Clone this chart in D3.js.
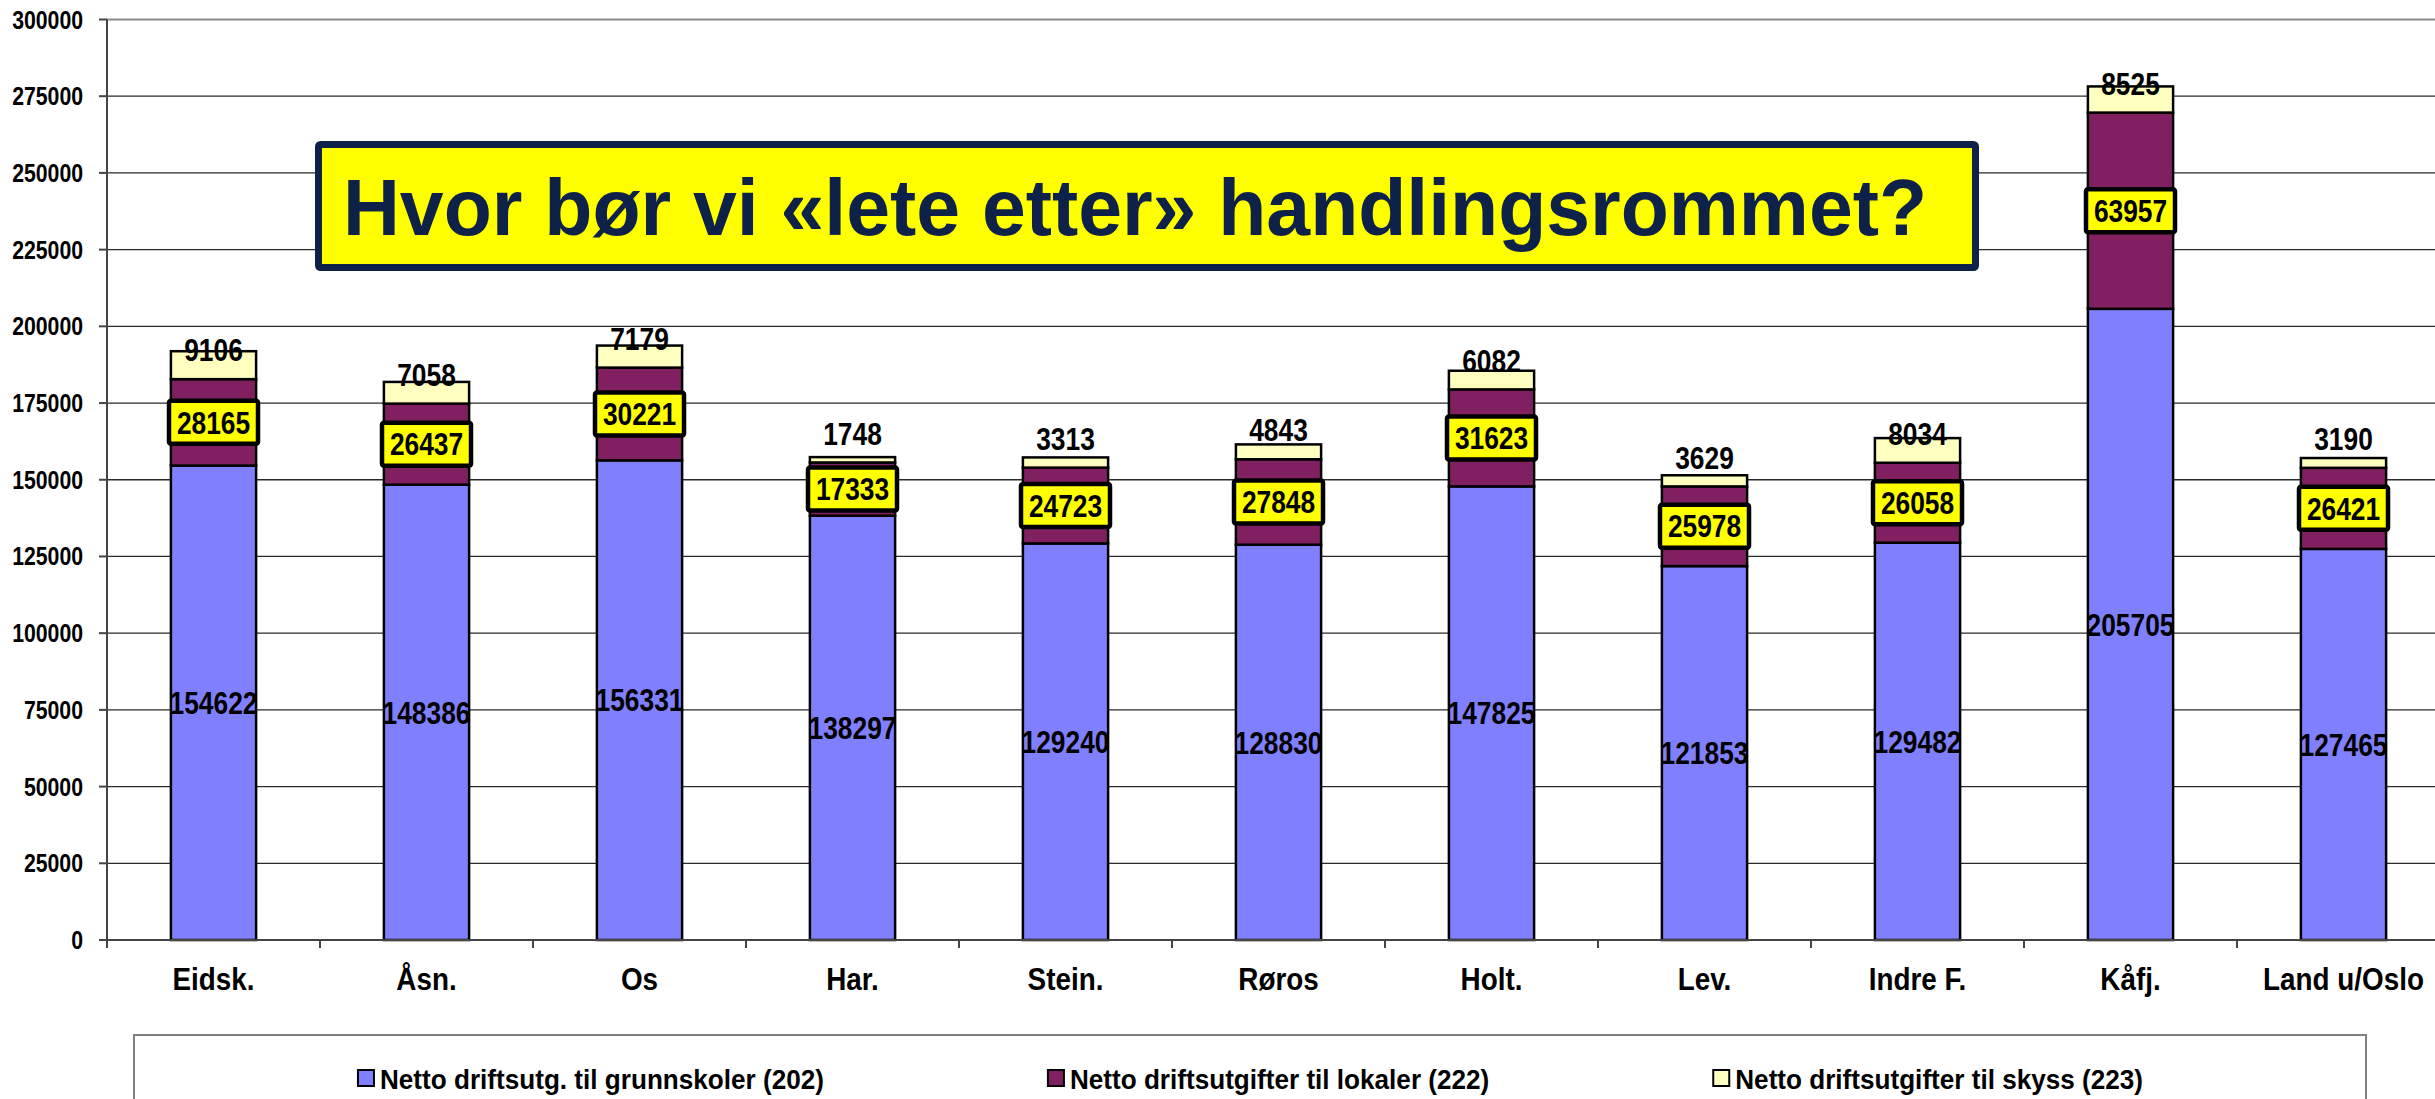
<!DOCTYPE html>
<html>
<head>
<meta charset="utf-8">
<script src="https://cdn.jsdelivr.net/npm/d3@7"></script>
<style>
  body { margin: 0; background: #fff; overflow: hidden; }
  text { font-family: "Liberation Sans", Arial, sans-serif; font-weight: bold; }
</style>
</head>
<body>
<svg id="chart"></svg>
<script>
// data
const categories = ["Eidsk.", "Åsn.", "Os", "Har.", "Stein.", "Røros", "Holt.", "Lev.", "Indre F.", "Kåfj.", "Land u/Oslo"];
const grunnskoler = [154622, 148386, 156331, 138297, 129240, 128830, 147825, 121853, 129482, 205705, 127465];
const lokaler = [28165, 26437, 30221, 17333, 24723, 27848, 31623, 25978, 26058, 63957, 26421];
const skyss = [9106, 7058, 7179, 1748, 3313, 4843, 6082, 3629, 8034, 8525, 3190];
const seriesNames = ["Netto driftsutg. til grunnskoler (202)", "Netto driftsutgifter til lokaler (222)", "Netto driftsutgifter til skyss (223)"];
const yTicks = [0, 25000, 50000, 75000, 100000, 125000, 150000, 175000, 200000, 225000, 250000, 275000, 300000];
const title = "Hvor bør vi «lete etter» handlingsrommet?";

const W = 2435, H = 1099;
const colors = ["#8080FF", "#802060", "#FFFFC0"];
const keys = ["grunn", "lokaler", "skyss"];
const sx = 0.85; // the picture's text is a bit condensed

const svg = d3.select("#chart").attr("width", W).attr("height", H);

const rows = categories.map((c, i) => ({ cat: c, grunn: grunnskoler[i], lokaler: lokaler[i], skyss: skyss[i] }));
const series = d3.stack().keys(keys)(rows);

const x = d3.scaleBand().domain(categories).range([107, 2450]).paddingInner(0.6).paddingOuter(0.3);
const y = d3.scaleLinear().domain([0, 300000]).range([940, 19.5]);

// squeezed text helper
function label(g, tx, ty, str, size, anchor, scale) {
  return g.append("text")
    .attr("transform", "translate(" + tx + "," + ty + ") scale(" + scale + ",1)")
    .attr("text-anchor", anchor)
    .attr("font-size", size)
    .attr("dy", "0.36em")
    .text(str);
}

//gridlines
svg.append("g").selectAll("line")
  .data(yTicks.filter(d => d > 0))
  .join("line")
  .attr("x1", 107).attr("x2", W)
  .attr("y1", d => y(d)).attr("y2", d => y(d))
  .attr("stroke", d => d === 300000 ? "#8a8a8a" : "#2a2a2a")
  .attr("stroke-width", d => d === 300000 ? 2.2 : 1.3);

//bars
const layers = svg.append("g").selectAll("g")
  .data(series)
  .join("g")
  .attr("fill", (d, i) => colors[i]);

layers.selectAll("rect")
  .data(d => d)
  .join("rect")
  .attr("x", d => x(d.data.cat))
  .attr("width", x.bandwidth())
  .attr("y", d => y(d[1]))
  .attr("height", d => y(d[0]) - y(d[1]))
  .attr("stroke", "#000")
  .attr("stroke-width", 2.5);

//axes
const axes = svg.append("g").attr("stroke", "#444").attr("stroke-width", 2);
axes.append("line").attr("x1", 107).attr("x2", 107).attr("y1", y(300000)).attr("y2", y(0));
axes.append("line").attr("x1", 107).attr("x2", W).attr("y1", y(0)).attr("y2", y(0));
axes.selectAll(".yt").data(yTicks).join("line")
  .attr("x1", 99).attr("x2", 107)
  .attr("y1", d => y(d)).attr("y2", d => y(d));
const bounds = categories.map(c => x(c) + x.bandwidth() / 2 - x.step() / 2);
axes.selectAll(".xt").data(bounds).join("line")
  .attr("x1", d => d).attr("x2", d => d)
  .attr("y1", y(0)).attr("y2", y(0) + 8);

const tl = svg.append("g");
yTicks.forEach(t => label(tl, 83, y(t), String(t), 25, "end", sx));
categories.forEach(c => label(tl, x(c) + x.bandwidth() / 2, 978, c, 32, "middle", 0.87));

//data labels
const lab = svg.append("g");
rows.forEach((r, i) => {
  const cx = x(r.cat) + x.bandwidth() / 2;
  // blue, middle of segment
  label(lab, cx, y(r.grunn / 2), String(r.grunn), 31, "middle", sx);
  // purple, in a yellow box
  const py = y(r.grunn + r.lokaler / 2);
  lab.append("rect")
    .attr("x", cx - 44.5).attr("y", py - 21.5)
    .attr("width", 89).attr("height", 43)
    .attr("fill", "#FFFF00").attr("stroke", "#000").attr("stroke-width", 4.5).attr("rx", 2);
  label(lab, cx, py, String(r.lokaler), 31, "middle", sx);
  // light yellow, just over the bar
  label(lab, cx, y(r.grunn + r.lokaler) - 29, String(r.skyss), 31, "middle", sx);
});

//legend
const lg = svg.append("g");
lg.append("rect").attr("x", 134).attr("y", 1035).attr("width", 2232).attr("height", 100)
  .attr("fill", "#fff").attr("stroke", "#808080").attr("stroke-width", 2);
const items = seriesNames.map((s, i) => {
  const g = lg.append("g");
  g.append("rect").attr("x", 1).attr("y", -9).attr("width", 16).attr("height", 16)
    .attr("fill", colors[i]).attr("stroke", "#000").attr("stroke-width", 2);
  const t = label(g, 23, 0, s, 27.5, "start", 0.95);
  return { g: g, w: 23 + t.node().getComputedTextLength() * 0.95 };
});
const gap = (2232 - d3.sum(items, d => d.w)) / (items.length + 1);
let lx = 134 + gap;
items.forEach(it => {
  it.g.attr("transform", "translate(" + lx + ",1079)");
  lx += it.w + gap;
});

//title box
const tb = svg.append("g");
tb.append("rect").attr("x", 318.5).attr("y", 144.5).attr("width", 1657).attr("height", 123)
  .attr("fill", "#FFFF00").attr("stroke", "#0D2149").attr("stroke-width", 7).attr("rx", 2);
tb.append("text")
  .attr("x", 343).attr("y", 235)
  .attr("font-family", "'Open Sans', 'Noto Sans', sans-serif")
  .attr("font-weight", 800)
  .attr("font-size", 80)
  .attr("fill", "#0D2149")
  .attr("textLength", 1584).attr("lengthAdjust", "spacingAndGlyphs")
  .text(title);
</script>
</body>
</html>
